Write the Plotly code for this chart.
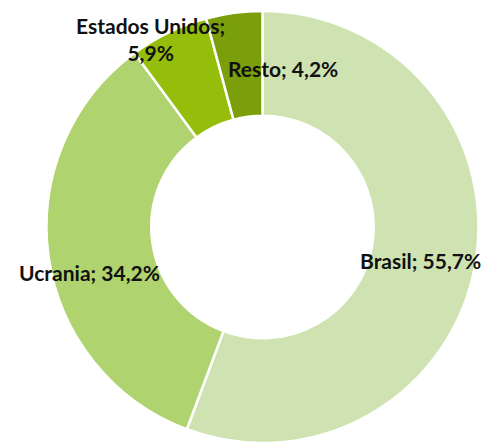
import plotly.graph_objects as go

countries = ["Brasil", "Ucrania", "Estados Unidos", "Resto"]
shares = [55.7, 34.2, 5.9, 4.2]
colors = ["#cfe3b2", "#afd36e", "#95be0b", "#7b9f0b"]

# label placement (paper coords), matching the reference layout
label_x = [0.866, 0.185, 0.309, 0.582]
label_y = [0.411, 0.386, 0.912, 0.846]


def fmt(name, v):
    pct = f"{v:.1f}".replace(".", ",") + "%"
    if name == "Estados Unidos":
        return f"{name};<br>{pct}"
    return f"{name}; {pct}"


fig = go.Figure(
    go.Pie(
        labels=countries,
        values=shares,
        hole=0.515,
        sort=False,
        direction="clockwise",
        rotation=0,
        marker=dict(colors=colors, line=dict(color="white", width=2.5)),
        textinfo="none",
        hoverinfo="label+percent",
        domain=dict(x=[46 / 486, 479 / 486], y=[0, 1 - 11 / 443]),
        showlegend=False,
    )
)

annotations = []
for name, v, x, y in zip(countries, shares, label_x, label_y):
    annotations.append(
        dict(
            text=fmt(name, v),
            x=x,
            y=y,
            xref="paper",
            yref="paper",
            xanchor="center",
            yanchor="middle",
            showarrow=False,
            font=dict(family="Lato", size=21, color="#111111", weight=700),
            align="center",
        )
    )

fig.update_layout(
    width=486,
    height=443,
    margin=dict(l=0, r=0, t=0, b=0),
    paper_bgcolor="white",
    plot_bgcolor="white",
    annotations=annotations,
)

fig.write_html(
    "out.html",
    config={"displayModeBar": False},
    post_script="document.body.style.margin='0';document.body.style.overflow='hidden';",
)
